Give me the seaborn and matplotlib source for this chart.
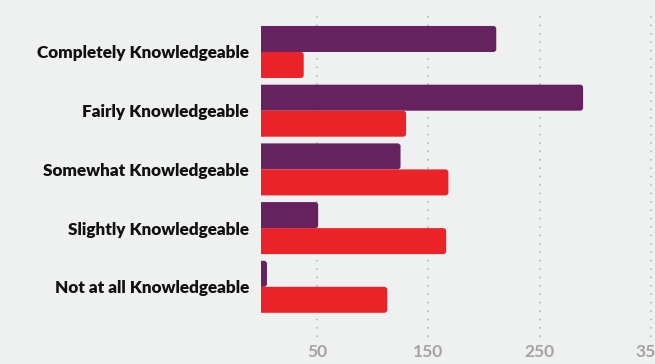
import matplotlib
matplotlib.use("Agg")
import matplotlib.pyplot as plt
from matplotlib.patches import FancyBboxPatch
import seaborn as sns
import pandas as pd

# Knowledge levels and responses for the two respondent groups
categories = [
    "Completely Knowledgeable",
    "Fairly Knowledgeable",
    "Somewhat Knowledgeable",
    "Slightly Knowledgeable",
    "Not at all Knowledgeable",
]
group_a = [211, 289, 125, 51, 5]
group_b = [38, 130, 168, 166, 113]
group_names = ["Group A", "Group B"]
x_ticks = [50, 150, 250, 350]

BG = "#eff0f0"
PURPLE = "#66215f"
RED = "#ec2229"

df = pd.DataFrame({
    "level": categories * 2,
    "group": [group_names[0]] * len(categories) + [group_names[1]] * len(categories),
    "count": group_a + group_b,
})

sns.set_theme(style="white")
plt.rcParams["font.family"] = ["Lato", "DejaVu Sans"]

fig = plt.figure(figsize=(6.55, 3.64), dpi=100, facecolor=BG)
W, H = 655, 364
ax = fig.add_axes([261.4 / W, 1 - 337 / H, (W - 261.4) / W, (337 - 14) / H])
ax.set_facecolor(BG)

sns.barplot(
    data=df, y="level", x="count", hue="group", orient="h",
    palette=[PURPLE, RED], width=0.886, saturation=1,
    legend=False, ax=ax, zorder=3,
)

ax.set_xlim(0, 353.6)
ax.set_ylim(4.855, -0.647)

# Replace plain rectangles with bars rounded at the value end
x_per_px = 353.6 / (W - 261.4)
y_per_px = (4.855 + 0.647) / (337 - 14)
r = 3.0 * x_per_px
for p in list(ax.patches):
    x0, y0 = p.get_x(), p.get_y()
    w, h = p.get_width(), p.get_height()
    if w <= 0:
        continue
    fb = FancyBboxPatch(
        (x0 - r * 2, y0), w + r * 2, h,
        boxstyle=f"round,pad=0,rounding_size={r}",
        mutation_aspect=y_per_px / x_per_px,
        facecolor=p.get_facecolor(), edgecolor="none",
        zorder=3, clip_on=True,
    )
    ax.add_patch(fb)
    fb.set_clip_path(ax.patch)
    p.remove()

for xv in x_ticks:
    ax.axvline(xv, color="#b0b0b0", linestyle=(0, (1, 4.5)), linewidth=1.1, zorder=1)

ax.set_xticks(x_ticks)
ax.set_xticklabels([str(v) for v in x_ticks], fontsize=12.5, fontweight="bold", color="#a3a3a3")
ax.tick_params(axis="x", length=0, pad=5)
ax.tick_params(axis="y", length=0, pad=9)
for lbl in ax.get_yticklabels():
    lbl.set_fontsize(12.3)
    lbl.set_fontweight("heavy")
    lbl.set_color("#111111")

ax.set_xlabel("")
ax.set_ylabel("")
for s in ax.spines.values():
    s.set_visible(False)

fig.savefig("out.png", dpi=100, facecolor=BG)
